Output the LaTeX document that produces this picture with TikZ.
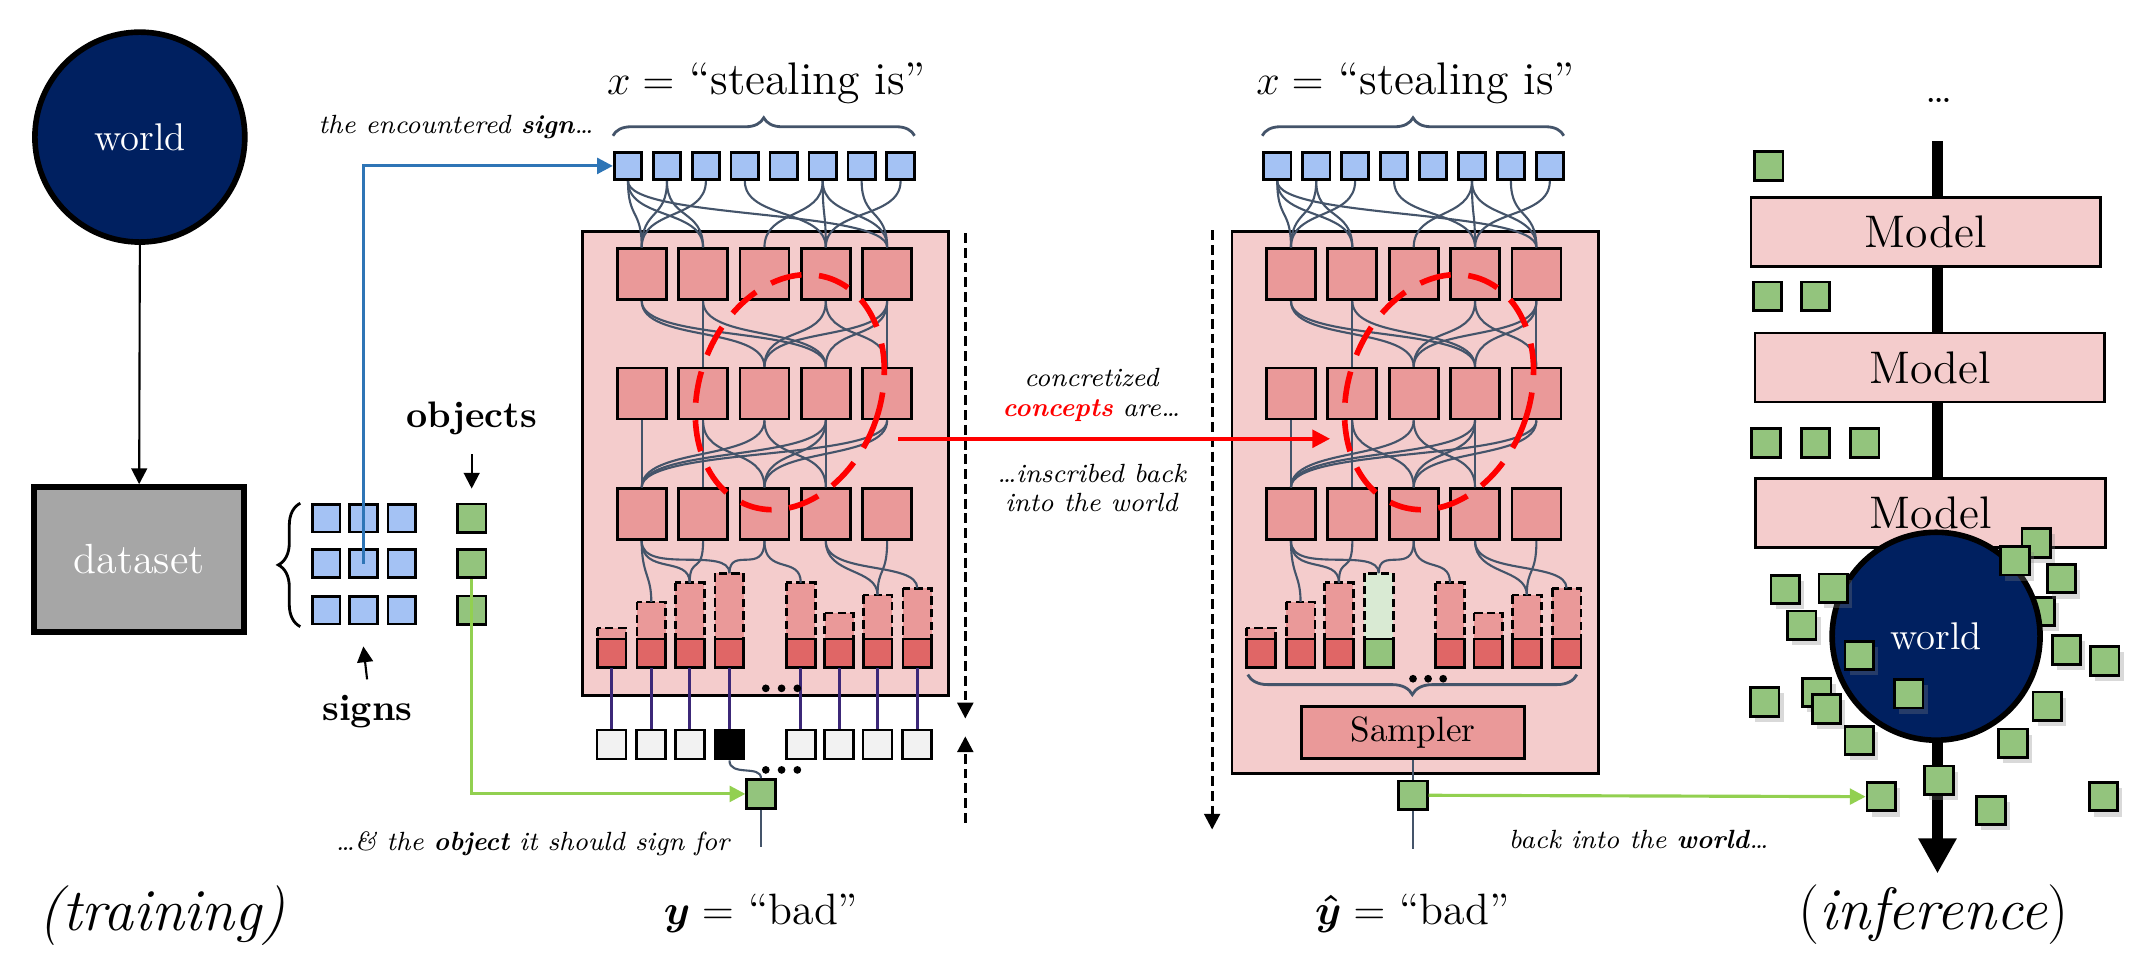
\documentclass[tikz,border=0pt]{standalone}
\usepackage{amsmath}
\usetikzlibrary{arrows.meta,positioning,shadows,decorations.pathreplacing}

\definecolor{navyworld}{RGB}{0,32,96}
\definecolor{signblue}{RGB}{164,194,244}
\definecolor{objgreen}{RGB}{147,196,125}
\definecolor{palegreen}{RGB}{217,234,211}
\definecolor{panelpink}{RGB}{244,204,204}
\definecolor{unitred}{RGB}{234,153,153}
\definecolor{barred}{RGB}{224,102,102}
\definecolor{wirecol}{RGB}{68,84,106}
\definecolor{linkblue}{RGB}{46,117,182}
\definecolor{linkgreen}{RGB}{146,208,80}
\definecolor{onehot}{RGB}{242,242,242}
\definecolor{stemcol}{RGB}{60,40,120}
\definecolor{datagray}{RGB}{166,166,166}

\tikzset{
    sq/.style={draw, line width=0.8pt, inner sep=0pt, minimum size=0.275cm},
    sign/.style={sq, fill=signblue},
    obj/.style={sq, fill=objgreen, minimum size=0.285cm},
    hot/.style={sq, fill=onehot, minimum size=0.29cm},
    neuron/.style={draw, line width=0.8pt, fill=unitred, inner sep=0pt,
        minimum width=0.49cm, minimum height=0.51cm},
    panel/.style={draw, line width=0.8pt, fill=panelpink},
    wire/.style={draw=wirecol, line width=0.6pt},
    stemline/.style={draw=stemcol, line width=0.8pt},
    bartop/.style={draw, line width=0.8pt, dash pattern=on 2.4pt off 1.2pt},
    barbase/.style={draw, line width=0.8pt},
    worldnode/.style={circle, draw, line width=1.6pt, fill=navyworld, text=white,
        minimum size=2.1cm, font=\fontsize{11}{13}\selectfont},
    modelbox/.style={draw, line width=0.8pt, fill=panelpink, minimum width=3.5cm,
        minimum height=0.69cm, font=\fontsize{13}{15}\selectfont},
    note/.style={font=\fontsize{7.5}{8.4}\selectfont\itshape},
    flow/.style={line width=0.8pt, dash pattern=on 2.8pt off 1.4pt,
        -{Triangle[length=4.5pt,width=4.5pt]}},
    tip/.style={-{Triangle[length=4.5pt,width=4.5pt]}},
    scattered/.style={obj, drop shadow={opacity=0.3, shadow xshift=1.3pt, shadow yshift=-1.6pt}},
    concept/.style={red, line width=1.6pt, dash pattern=on 9pt off 5pt},
    curly/.style={decorate, decoration={brace, amplitude=#1}},
}

\begin{document}
\begin{tikzpicture}[x=0.013712cm, y=-0.013712cm]
    \useasboundingbox (0,0) rectangle (1568,701);

    % Training: world and dataset
    \node[worldnode] (world) at (102,100) {world};
    \node[draw, line width=1.6pt, fill=datagray, text=white, minimum width=2.1cm,
        minimum height=1.45cm, font=\fontsize{12}{14}\selectfont] (dataset) at (101.5,408) {dataset};
    \draw[line width=0.6pt, tip] (world.south) -- (dataset.north);

    % Signs and objects
    \foreach \ro/\y in {1/378,2/411,3/445} {
        \foreach \co/\x in {1/238,2/265,3/293}
            \node[sign] (s\ro\co) at (\x,\y) {};
        \node[obj] (o\ro) at (344,\y) {};
    }
    \draw[line width=0.8pt, curly=0.22cm] (219,457) -- (219,367);
    \node[font=\fontsize{10.5}{12}\selectfont\bfseries] (objlbl) at (344,305) {objects};
    \node[font=\fontsize{10.5}{12}\selectfont\bfseries] (signlbl) at (268,519) {signs};
    \draw[line width=0.6pt, tip, shorten <=2pt] (objlbl.south) -- ([yshift=4pt]o1.north);
    \draw[line width=0.6pt, tip, shorten <=1pt] (signlbl.north) -- ([yshift=-6pt]s32.south);

    % The two networks (a: training, b: inference)
    \foreach \net/\dx/\pbot/\hitop/\hibase in {a/0/507/unitred/barred, b/473.5/564/palegreen/objgreen} {
        \draw[panel] ({\dx+425},169) rectangle ({\dx+692},\pbot);
        % input signs
        \foreach \k in {1,...,8}
            \node[sign] (\net-i\k) at ({\dx+458+28.4*(\k-1)},121) {};
        \draw[wirecol, line width=0.8pt, curly=0.18cm] ({\dx+447},99) -- ({\dx+667},99);
        \node[font=\fontsize{13}{15}\selectfont] (\net-x) at ({\dx+559},61)
            {$x =$ \textquotedblleft stealing is\textquotedblright};
        % hidden units
        \foreach \ro/\y in {1/200,2/287,3/375}
            \foreach \co in {1,...,5}
                \node[neuron] (\net-h\ro\co) at ({\dx+468+44.75*(\co-1)},\y) {};
        % output distribution
        \foreach \k/\x/\tp/\ft/\fb in {1/446/458/unitred/barred, 2/475/439/unitred/barred,
                3/503/425/unitred/barred, 4/532/418/\hitop/\hibase, 5/584/425/unitred/barred,
                6/612/447/unitred/barred, 7/640/434/unitred/barred, 8/669/429/unitred/barred} {
            \draw[bartop, fill=\ft] ({\dx+\x-10.5},\tp) rectangle ({\dx+\x+10.5},466);
            \draw[barbase, fill=\fb] ({\dx+\x-10.5},466) rectangle ({\dx+\x+10.5},487);
            \coordinate (\net-t\k) at ({\dx+\x},\tp);
            \coordinate (\net-b\k) at ({\dx+\x},487);
        }
        % wires
        \foreach \p/\q in {1/1,1/2,1/5,2/1,2/2,3/1,4/4,6/3,6/4,6/5,7/5,8/4}
            \draw[wire] (\net-i\p.south) .. controls +(0,28) and +(0,-28) .. (\net-h1\q.north);
        \foreach \p/\q in {1/3,1/4,2/2,2/4,4/3,4/5,5/3,5/4,5/5}
            \draw[wire] (\net-h1\p.south) .. controls +(0,30) and +(0,-30) .. (\net-h2\q.north);
        \foreach \p/\q in {1/1,2/2,2/3,3/1,3/4,4/1,4/3,4/4,5/1,5/3}
            \draw[wire] (\net-h2\p.south) .. controls +(0,30) and +(0,-30) .. (\net-h3\q.north);
        \foreach \p/\q in {1/2,1/3,1/4,2/3,3/4,3/5,4/7,4/8,5/7}
            \draw[wire] (\net-h3\p.south) .. controls +(0,25) and +(0,-20) .. (\net-t\q);
        % concept
        \draw[concept, rotate around={-20:({\dx+576},286)}] ({\dx+576},286)
            ellipse [x radius=0.905cm, y radius=1.207cm];
    }

    % Training target
    \foreach \k/\x/\col in {1/446/onehot,2/475/onehot,3/503/onehot,4/532/black,
            5/584/onehot,6/612/onehot,7/640/onehot,8/669/onehot} {
        \node[hot, fill=\col] (a-o\k) at (\x,543) {};
        \draw[stemline] (a-b\k) -- (a-o\k.north);
    }
    \foreach \i in {0,1,2} {
        \fill (558.5+11.5*\i,502) circle (1.1pt);
        \fill (558.5+11.5*\i,561.5) circle (1.1pt);
    }
    \node[obj] (a-out) at (555,579) {};
    \draw[wire] (a-o4.south) .. controls +(0,12) and +(0,-10) .. (a-out.north);
    \coordinate (a-yend) at (555,618);
    \draw[wire] (a-out.south) -- (a-yend);

    % Links from the dataset
    \draw[linkblue, line width=0.9pt, tip] (s22.center) |- (a-i1.west);
    \draw[linkgreen, line width=0.9pt, tip] (o2.south) |- (a-out.west);
    \node[note, anchor=south east] (signnote) at ([xshift=-2pt]a-i1.north west)
        {the encountered \textbf{sign}\ldots};
    \node[note, anchor=east] (objnote) at (541,615)
        {\ldots\& the \textbf{object} it should sign for};

    % Inference output
    \draw[wirecol, line width=0.8pt, curly=0.2cm] (1150,492) -- (910,492);
    \foreach \i in {0,1,2}
        \fill (1030.5+11*\i,495) circle (1.1pt);
    \node[neuron, minimum width=2.235cm, minimum height=0.52cm,
        font=\fontsize{10}{12}\selectfont] (sampler) at (1030.5,534) {Sampler};
    \node[obj] (b-out) at (1030.5,580) {};
    \draw[wire] (sampler.south) -- (b-out.north);
    \coordinate (b-yend) at (1030.5,619);
    \draw[wire] (b-out.south) -- (b-yend);
    \node[note] (backnote) at (1195,612) {back into the \textbf{world}\ldots};

    % Forward passes
    \coordinate (a-f1) at (704,170);
    \coordinate (a-f2) at (704,524);
    \coordinate (a-f3) at (704,600);
    \coordinate (a-f4) at (704,537);
    \coordinate (b-f1) at (884,168);
    \coordinate (b-f2) at (884,605);
    \draw[flow] (a-f1) -- (a-f2);
    \draw[flow] (a-f3) -- (a-f4);
    \draw[flow] (b-f1) -- (b-f2);

    % Concepts carried over
    \node[note, align=center] (concnote) at (796,288)
        {concretized\\\textcolor{red}{\textbf{concepts}} are\ldots};
    \node[note, align=center] (inscnote) at (796,356)
        {\ldots inscribed back\\into the world};
    \coordinate (a-hit) at (655,320);
    \coordinate (b-hit) at (970,320);
    \draw[red, line width=1pt, -{Triangle[length=5pt,width=5pt]}] (a-hit) -- (b-hit);

    % Bottom labels
    \node[font=\fontsize{17}{20}\selectfont\itshape] (training) at (118,668) {(training)};
    \node[font=\fontsize{12.5}{15}\selectfont] (a-y) at (555,666)
        {$\boldsymbol{y} =$ \textquotedblleft bad\textquotedblright};
    \node[font=\fontsize{12.5}{15}\selectfont] (b-y) at (1030,666)
        {$\boldsymbol{\hat{y}} =$ \textquotedblleft bad\textquotedblright};
    \node[font=\fontsize{17}{20}\selectfont] (inference) at (1410,667) {(\textit{inference})};

    % Inference chain
    \coordinate (chain-top) at (1413,103);
    \coordinate (chain-end) at (1413,637);
    \draw[line width=3.1pt, -{Triangle[length=0.35cm,width=0.36cm]}] (chain-top) -- (chain-end);
    \node[font=\fontsize{12}{14}\selectfont] (more) at (1414,73) {\ldots};
    \node[modelbox] (m1) at (1404.5,169) {Model};
    \node[modelbox] (m2) at (1407.5,268) {Model};
    \node[modelbox] (m3) at (1408,374) {Model};
    \foreach \x/\y [count=\n] in {1290/121,1289/216,1324/216,1288/323,1324/323,1360/323}
        \node[obj] (tok\n) at (\x,\y) {};

    % World filled with objects
    \node[scattered] (hid) at (1488,446) {};
    \node[worldnode, minimum size=2.08cm] (earth) at (1412,464) {world};
    \foreach \x/\y [count=\n] in {1485/396,1469.5/409,1503.5/422,1302/430,1337/429,1314/456,
            1356/478,1507/474,1535/482,1287/512,1325/505,1332/517,1392/506,1493/515,
            1356/540,1468/542,1414/569,1452/591,1534/581}
        \node[scattered] (w\n) at (\x,\y) {};
    \node[scattered] (landing) at (1372,581) {};
    \draw[linkgreen, line width=0.9pt, tip] (b-out.east) -- (landing.west);
\end{tikzpicture}
\end{document}
